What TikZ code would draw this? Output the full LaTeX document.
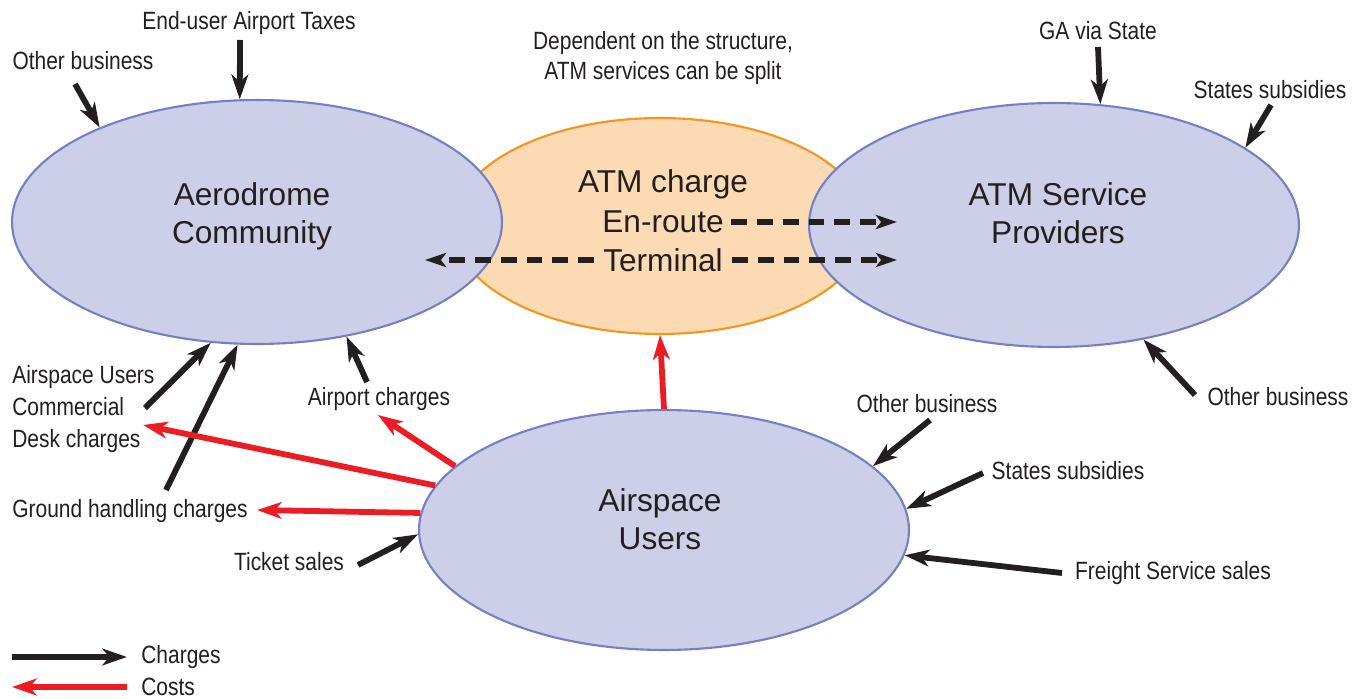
\documentclass[tikz,border=0pt]{standalone}
\usepackage{fontspec}
\setmainfont{Liberation Sans}
\newfontfamily\condfont{Liberation Sans}[FakeStretch=0.84]
\usetikzlibrary{shapes.geometric,arrows.meta}
\definecolor{bubblefill}{HTML}{CDCEE8}
\definecolor{bubbleline}{HTML}{7580C2}
\definecolor{atmfill}{HTML}{FCDAB3}
\definecolor{atmline}{HTML}{F7941D}
\definecolor{costred}{HTML}{ED1C24}
\definecolor{ink}{HTML}{231F20}

\begin{document}
\begin{tikzpicture}[x=0.02cm, y=-0.02cm,
  bubble/.style={ellipse, draw=bubbleline, fill=bubblefill, line width=1.2pt,
    minimum width=9.8cm, minimum height=4.88cm, inner sep=0pt},
  bigtext/.style={font=\fontsize{18}{21.5}\selectfont, text=ink, align=center, inner sep=0pt},
  lbl/.style={font=\condfont\fontsize{14.2}{18}\selectfont, text=ink, inner sep=0pt},
  charge/.style={draw=ink, line width=3.3pt, -{Stealth[length=14pt,width=9.5pt,inset=4pt]}},
  cost/.style={draw=costred, line width=3.3pt, -{Stealth[length=14pt,width=9.5pt,inset=4pt]}},
  split/.style={draw=ink, line width=3.3pt, dash pattern=on 9pt off 5.7pt,
    -{Stealth[length=12pt,width=8pt,inset=3pt]}}]
\useasboundingbox (0,0) rectangle (1353,699);

% bubbles
\node[ellipse, draw=atmline, fill=atmfill, line width=1.2pt, minimum width=8.28cm,
  minimum height=4.32cm, inner sep=0pt] (atm) at (660,226) {};
\node[bubble] (aero) at (257,222) {};
\node[bubble] (asp) at (1054,225) {};
\node[bubble, minimum height=4.8cm] (users) at (664,530) {};

\node[bigtext] (aerotxt) at (252,216) {Aerodrome\\Community};
\node[bigtext] (asptxt) at (1058,213) {ATM Service\\Providers};
\node[bigtext] (userstxt) at (660,519) {Airspace\\Users};
\node[bigtext] (atmtxt) at (663,184) {ATM charge};
\node[bigtext] (enroute) at (663,222) {En-route};
\node[bigtext] (terminal) at (663,260) {Terminal};

% labels
\node[lbl] (ob1) at (83,61) {Other business};
\node[lbl] (eat) at (249,23) {End-user Airport Taxes};
\node[lbl, align=center, font=\condfont\fontsize{14.2}{17}\selectfont] (dep) at (663,58)
  {Dependent on the structure,\\ATM services can be split};
\node[lbl] (ga) at (1098,31) {GA via State};
\node[lbl] (ss1) at (1270,90) {States subsidies};
\node[lbl] (ob2) at (1278,397) {Other business};
\node[lbl, align=left, anchor=west] (aucd) at (12,409) {Airspace Users\\Commercial\\Desk charges};
\node[lbl] (ghc) at (130,511) {Ground handling charges};
\node[lbl] (apc) at (379,399) {Airport charges};
\node[lbl] (ob3) at (927,404) {Other business};
\node[lbl] (ss2) at (1068,471) {States subsidies};
\node[lbl] (fss) at (1173,573) {Freight Service sales};
\node[lbl] (ts) at (289,562) {Ticket sales};
\node[lbl, anchor=west] (chg) at (141,657) {Charges};
\node[lbl, anchor=west] (cst) at (141,687) {Costs};

% arrow tails
\coordinate (ob1-t) at (75,84);
\coordinate (eat-t) at (240,40);
\coordinate (ga-t) at (1098,47);
\coordinate (ss1-t) at (1271,105);
\coordinate (ob2-t) at (1195,395);
\coordinate (aucd-t) at (145,408);
\coordinate (ghc-t) at (166,490);
\coordinate (apc-t) at (367,382);
\coordinate (ob3-t) at (930,420);
\coordinate (ss2-t) at (983,473);
\coordinate (fss-t) at (1062,573);
\coordinate (ts-t) at (358,565);
\coordinate (apc-h) at (378,415);
\coordinate (aucd-h) at (143,425);
\coordinate (ghc-h) at (257,510);
\coordinate (en-h) at (897,222);
\coordinate (term-h) at (897,260);
\coordinate (term-w) at (425,260);
\coordinate (chg-a) at (12,657);
\coordinate (chg-b) at (127,657);
\coordinate (cst-a) at (127,687);
\coordinate (cst-b) at (12,687);

% charges
\draw[charge] (ob1-t) -- (aero.149);
\draw[charge] (eat-t) -- (aero.98);
\draw[charge] (aucd-t) -- (aero.249.4);
\draw[charge] (ghc-t) -- (aero.261.3);
\draw[charge] (apc-t) -- (aero.308.4);
\draw[charge] (ga-t) -- (asp.69.7);
\draw[charge] (ss1-t) -- (asp.22.7);
\draw[charge] (ob2-t) -- (asp.308);
\draw[charge] (ob3-t) -- (users.17);
\draw[charge] (ss2-t) -- (users.5.1);
\draw[charge] (fss-t) -- (users.354.8);
\draw[charge] (ts-t) -- (users.181.2);

% costs
\draw[cost] (users.163.2) -- (apc-h);
\draw[cost] (users.169.5) -- (aucd-h);
\draw[cost] (users.176.7) -- (ghc-h);
\draw[cost] (users.north) -- (atm.south);

% ATM charge split
\draw[split] ([xshift=4pt]enroute.east) -- (en-h);
\draw[split] ([xshift=5pt]terminal.east) -- (term-h);
\draw[split] ([xshift=-5pt]terminal.west) -- (term-w);

% legend
\draw[charge] (chg-a) -- (chg-b);
\draw[cost] (cst-a) -- (cst-b);
\end{tikzpicture}
\end{document}
